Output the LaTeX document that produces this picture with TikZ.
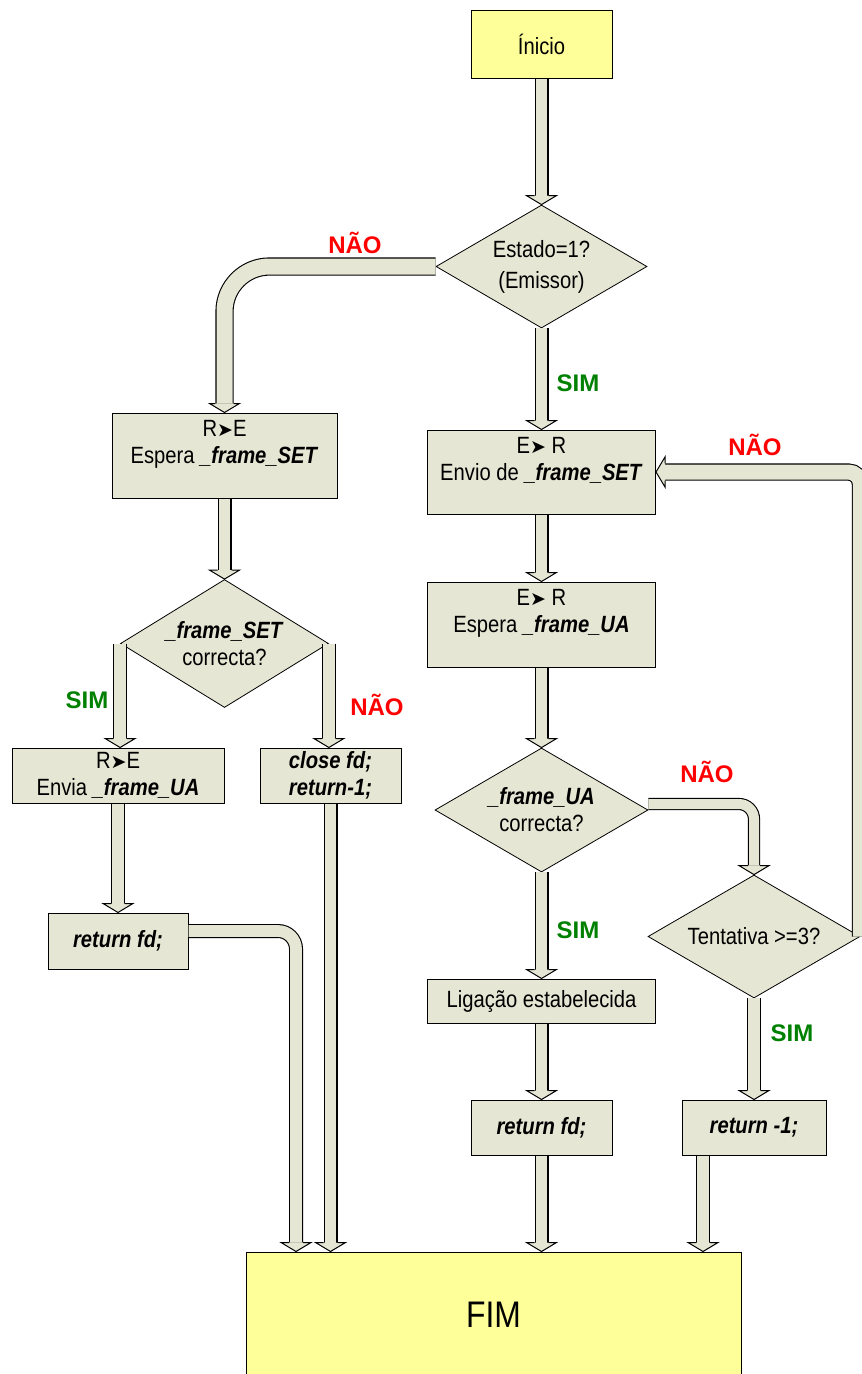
\documentclass[tikz,border=0pt]{standalone}
\usepackage{fontspec}
\setmainfont{Liberation Sans}[FakeStretch=0.86]
\newfontfamily\lblfont{Liberation Sans}
\newfontfamily\symfont{DejaVu Sans}
\usetikzlibrary{shapes.geometric}
\definecolor{boxfill}{RGB}{230,230,212}
\definecolor{yel}{RGB}{255,255,153}
\definecolor{nred}{RGB}{255,0,0}
\definecolor{sgreen}{RGB}{0,128,0}
\newcommand\arr{{\symfont\fontsize{19}{19}\selectfont ➤}}
\newcommand\bi[1]{\textbf{\textit{#1}}}
\newcommand\tipS[2][7]{\filldraw[tipst] (#2) ++(-#1,-9) -- ++({#1-15},0) -- (#2) -- ++(15,-9) -- ++({#1-15},0);}
\newcommand\tipW[2][7]{\filldraw[tipst] (#2) ++(9,-#1) -- ++(0,{#1-15}) -- (#2) -- ++(9,15) -- ++(0,{#1-15});}
\begin{document}
\begin{tikzpicture}[x=1pt,y=-1pt,
  every node/.style={font=\fontsize{23.5}{27}\selectfont, align=center, inner sep=0pt},
  box/.style={draw=black, line width=1pt, fill=boxfill},
  ybox/.style={draw=black, line width=1pt, fill=yel},
  dia/.style={diamond, draw=black, line width=0.8pt, fill=boxfill, aspect=1.7},
  pipe/.style={draw=black, line width=1.1pt, double=boxfill, double distance=#1},
  pipe/.default=11.8pt,
  tipst/.style={draw=black, line width=1pt, fill=boxfill, line join=miter},
  lblr/.style={font=\lblfont\bfseries\fontsize{24}{24}\selectfont, text=nred},
  lblg/.style={font=\lblfont\bfseries\fontsize{24}{24}\selectfont, text=sgreen},
]
\useasboundingbox (0,0) rectangle (862,1374);

% nodes
\node[ybox, minimum width=141pt, minimum height=68pt] (start) at (541.5,44) {Ínicio};
\node[dia, minimum width=211pt, minimum height=123pt] (d1) at (541.5,266.5) {Estado=1?\\[4pt](Emissor)};
\node[box, minimum width=225pt, minimum height=85pt] (lbox1) at (224.5,455.5) {R\arr E\\Espera \bi{\_frame\_SET}\\\mbox{}};
\node[box, minimum width=228pt, minimum height=84pt] (b1) at (541.5,472) {E\arr\ R\\Envio de \bi{\_frame\_SET}\\\mbox{}};
\node[box, minimum width=228pt, minimum height=85pt] (b2) at (541.5,624.5) {E\arr\ R\\Espera \bi{\_frame\_UA}\\\mbox{}};
\node[dia, minimum width=208pt, minimum height=128pt] (d2) at (224.5,643.5) {\bi{\_frame\_SET}\\correcta?};
\node[box, minimum width=212pt, minimum height=55pt] (envia) at (118,775.5) {R\arr E\\Envia \bi{\_frame\_UA}};
\node[box, minimum width=141pt, minimum height=55pt] (close) at (330.5,775.5) {\bi{close fd;}\\\bi{return-1;}};
\node[box, minimum width=140pt, minimum height=56pt] (ret1) at (118,941) {\bi{return fd;}};
\node[dia, minimum width=213pt, minimum height=124pt] (d3) at (541.5,810) {\bi{\_frame\_UA}\\correcta?};
\node[dia, minimum width=212pt, minimum height=123pt] (d4) at (754,936.5) {Tentativa >=3?};
\node[box, minimum width=228pt, minimum height=44pt] (lig) at (541.5,1001) {Ligação estabelecida};
\node[box, minimum width=141pt, minimum height=55pt] (ret2) at (541.5,1127.5) {\bi{return fd;}};
\node[box, minimum width=144pt, minimum height=55pt] (retm1) at (754,1127.5) {\bi{return -1;}};
\node[ybox, minimum width=495pt, minimum height=126pt, font=\fontsize{37}{37}\selectfont] (fim) at (493.5,1315) {FIM};

% helper coordinates
\coordinate (fa) at ([xshift=-197.5pt]fim.north);
\coordinate (rs) at ([xshift=-51pt]retm1.south);
\coordinate (ea) at (d2.west |- envia.north);

% connectors
\draw[pipe, shorten >=9pt] (start.south) -- (d1.north); \tipS{d1.north}
\draw[pipe=16pt, shorten >=9pt, rounded corners=45pt] (d1.west) -| (lbox1.north); \tipS[9.1]{lbox1.north}
\draw[pipe, shorten >=9pt] (d1.south) -- (b1.north); \tipS{b1.north}
\draw[pipe, shorten >=9pt] (lbox1.south) -- (d2.north); \tipS{d2.north}
\draw[pipe, shorten >=9pt] (d2.west) -- (ea); \tipS{ea}
\draw[pipe, shorten >=9pt] (d2.east) -- (d2.east |- close.north); \tipS{d2.east |- close.north}
\draw[pipe, shorten >=9pt] (envia.south) -- (ret1.north); \tipS{ret1.north}
\draw[pipe, shorten >=9pt, rounded corners=18pt] ([yshift=10pt]ret1.east) -| (fa); \tipS{fa}
\draw[pipe, shorten >=9pt] (close.south) -- (close.south |- fim.north); \tipS{close.south |- fim.north}
\draw[pipe, shorten >=9pt] (b1.south) -- (b2.north); \tipS{b2.north}
\draw[pipe, shorten >=9pt] (b2.south) -- (d3.north); \tipS{d3.north}
\draw[pipe=10pt, shorten >=9pt, rounded corners=15pt] ([yshift=6pt]d3.east) -| (d4.north); \tipS[6.1]{d4.north}
\draw[pipe=15pt, shorten >=9pt, rounded corners=12pt] (d4.east) |- (b1.east); \tipW[8.6]{b1.east}
\draw[pipe, shorten >=9pt] (d3.south) -- (lig.north); \tipS{lig.north}
\draw[pipe, shorten >=9pt] (d4.south) -- (retm1.north); \tipS{retm1.north}
\draw[pipe, shorten >=9pt] (lig.south) -- (ret2.north); \tipS{ret2.north}
\draw[pipe, shorten >=9pt] (ret2.south) -- (fim.north -| ret2.south); \tipS{fim.north -| ret2.south}
\draw[pipe, shorten >=9pt] (rs) -- (rs |- fim.north); \tipS{rs |- fim.north}

% labels
\node[lblr] (n1) at (355,243) {NÃO};
\node[lblg] (s1) at (578,383) {SIM};
\node[lblr] (n2) at (755,445) {NÃO};
\node[lblg] (s2) at (87,700) {SIM};
\node[lblr] (n3) at (377,705) {NÃO};
\node[lblr] (n4) at (707,772) {NÃO};
\node[lblg] (s3) at (578,930) {SIM};
\node[lblg] (s4) at (792,1033) {SIM};
\end{tikzpicture}
\end{document}
